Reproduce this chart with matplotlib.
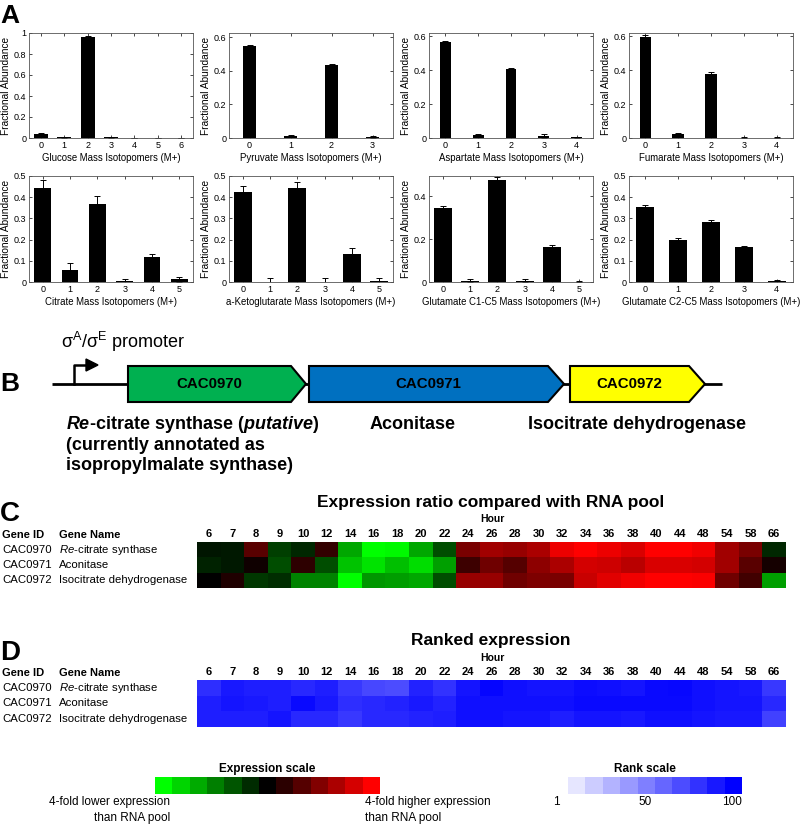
import numpy as np
import matplotlib
matplotlib.use("Agg")
import matplotlib.pyplot as plt
from matplotlib.colors import LinearSegmentedColormap
from matplotlib.patches import Polygon
from matplotlib.ticker import FormatStrFormatter

plt.rcParams['font.family'] = ['Liberation Sans', 'DejaVu Sans']
plt.rcParams['mathtext.fontset'] = 'custom'
plt.rcParams['mathtext.rm'] = 'Liberation Sans'
plt.rcParams['mathtext.it'] = 'Liberation Sans:italic'
plt.rcParams['mathtext.bf'] = 'Liberation Sans:bold'
plt.rcParams['mathtext.bfit'] = 'Liberation Sans:italic:bold'

# ---- panel A: mass isotopomer distributions ----
metabolites = ['Glucose', 'Pyruvate', 'Aspartate', 'Fumarate',
               'Citrate', 'a-Ketoglutarate', 'Glutamate C1-C5', 'Glutamate C2-C5']
abundance = [
    [0.035, 0.005, 0.960, 0.005, 0.0, 0.0, 0.0],
    [0.545, 0.012, 0.435, 0.005],
    [0.565, 0.015, 0.405, 0.012, 0.003],
    [0.595, 0.022, 0.380, 0.002, 0.002],
    [0.445, 0.057, 0.370, 0.005, 0.118, 0.012],
    [0.425, 0.000, 0.445, 0.000, 0.132, 0.004],
    [0.345, 0.006, 0.478, 0.006, 0.165, 0.002],
    [0.355, 0.200, 0.282, 0.163, 0.003],
]
abundance_err = [
    [0.010, 0.004, 0.012, 0.002, 0.0, 0.0, 0.0],
    [0.008, 0.008, 0.008, 0.005],
    [0.010, 0.010, 0.010, 0.010, 0.003],
    [0.015, 0.010, 0.010, 0.003, 0.003],
    [0.035, 0.032, 0.035, 0.008, 0.013, 0.010],
    [0.030, 0.020, 0.028, 0.020, 0.030, 0.013],
    [0.012, 0.008, 0.012, 0.008, 0.008, 0.003],
    [0.008, 0.008, 0.010, 0.008, 0.008],
]
y_max = [1.0, 0.625, 0.62, 0.62, 0.5, 0.5, 0.495, 0.5]
y_ticks = [[0, 0.2, 0.4, 0.6, 0.8, 1], [0, 0.2, 0.4, 0.6], [0, 0.2, 0.4, 0.6], [0, 0.2, 0.4, 0.6],
           [0, 0.1, 0.2, 0.3, 0.4, 0.5], [0, 0.1, 0.2, 0.3, 0.4, 0.5], [0, 0.2, 0.4],
           [0, 0.1, 0.2, 0.3, 0.4, 0.5]]
bar_widths = [0.6, 0.33, 0.33, 0.35, 0.6, 0.65, 0.65, 0.55]

# ---- panel B: operon ----
genes = ['CAC0970', 'CAC0971', 'CAC0972']
gene_colors = ['#00B050', '#0070C0', '#FFFF00']

# ---- panels C and D: expression heatmaps ----
hours = [6, 7, 8, 9, 10, 12, 14, 16, 18, 20, 22, 24, 26, 28, 30, 32, 34, 36, 38, 40, 44, 48, 54, 58, 66]
gene_names = [r'$\mathit{Re}$-citrate synthase', 'Aconitase', 'Isocitrate dehydrogenase']
# log2 expression ratio vs RNA pool
log_ratio = np.array([
    [-0.16, -0.2, 0.7, -0.5, -0.3, 0.4, -1.3, -2.0, -1.95, -1.3, -0.6, 0.95, 1.25,
     1.18, 1.33, 1.85, 2.0, 1.85, 1.7, 2.0, 2.0, 1.88, 1.25, 0.95, -0.3],
    [-0.28, -0.2, 0.12, -0.6, 0.35, -0.6, -1.53, -1.77, -1.5, -1.73, -1.25, 0.47, 0.86,
     0.67, 1.1, 1.33, 1.65, 1.6, 1.45, 1.69, 1.69, 1.65, 1.25, 0.7, 0.16],
    [0.0, 0.24, -0.43, -0.35, -1.02, -1.02, -2.0, -1.18, -1.22, -1.3, -0.6, 1.18, 1.18,
     0.86, 0.98, 0.94, 1.57, 1.76, 1.88, 2.0, 2.0, 1.96, 0.86, 0.51, -1.25],
])
# rank (1-100)
rank = np.array([
    [82, 90, 88, 88, 84, 88, 78, 72, 70, 86, 80, 92, 98, 94, 92, 92, 95, 94, 92, 96, 97, 94, 92, 90, 78],
    [88, 92, 90, 88, 96, 90, 82, 84, 86, 90, 86, 94, 94, 94, 94, 94, 96, 96, 96, 96, 96, 94, 92, 92, 84],
    [88, 88, 88, 92, 84, 84, 78, 84, 84, 86, 88, 94, 94, 92, 92, 88, 92, 92, 90, 94, 94, 92, 90, 90, 74],
])
expr_scale = np.linspace(-2, 2, 13)
rank_scale = np.arange(10, 101, 10)

W, H = 800, 824
fig = plt.figure(figsize=(W / 100, H / 100), dpi=100)


def px_axes(x0, y0, x1, y1):
    return fig.add_axes([x0 / W, 1 - y1 / H, (x1 - x0) / W, (y1 - y0) / H])


# overlay in pixel coordinates for annotations and the gene diagram
ov = fig.add_axes([0, 0, 1, 1])
ov.set_xlim(0, W)
ov.set_ylim(H, 0)
ov.axis('off')

# ---- A ----
ov.text(0, 16, 'A', fontsize=19, fontweight='bold', va='center')
lefts = [29, 229, 429, 629]
rows = [(33, 138), (176, 282)]
for k, name in enumerate(metabolites):
    top, bot = rows[k // 4]
    ax = px_axes(lefts[k % 4], top, lefts[k % 4] + 164, bot)
    vals = abundance[k]
    x = np.arange(len(vals))
    ax.bar(x, vals, width=bar_widths[k], color='black')
    ax.errorbar(x, vals, yerr=abundance_err[k], fmt='none', ecolor='black',
                elinewidth=0.7, capsize=2.5, capthick=0.7)
    ax.set_xlim(-0.5, len(vals) - 0.5)
    ax.set_ylim(0, y_max[k])
    ax.set_xticks(x)
    ax.set_yticks(y_ticks[k])
    ax.yaxis.set_major_formatter(FormatStrFormatter('%g'))
    ax.tick_params(direction='in', top=True, right=True, length=2, width=0.5,
                   labelsize=6.5, pad=2)
    for s in ax.spines.values():
        s.set_linewidth(0.6)
        s.set_color('#555555')
    ax.set_ylabel('Fractional Abundance', fontsize=7.3, labelpad=2)
    ax.set_xlabel(f'{name} Mass Isotopomers (M+)', fontsize=6.9, labelpad=2)

# ---- B ----
ov.text(0, 384, 'B', fontsize=19, fontweight='bold', va='center')
ov.plot([52, 722], [384, 384], color='black', lw=2, solid_capstyle='butt', zorder=1)
ov.plot([74, 74, 87], [384, 365, 365], color='black', lw=1.8, zorder=1)
ov.add_patch(Polygon([(86, 359), (98, 365), (86, 371)], closed=True, color='black'))
ov.text(61, 342, r'σ$^{\mathrm{A}}$/σ$^{\mathrm{E}}$ promoter', fontsize=13, va='center')

arrows = [(128, 291, 306), (309, 548, 564), (570, 689, 705)]
for (x0, tip, x1), g, c in zip(arrows, genes, gene_colors):
    ov.add_patch(Polygon([(x0, 366), (tip, 366), (x1, 384), (tip, 402), (x0, 402)],
                         closed=True, facecolor=c, edgecolor='black', lw=1.5, zorder=3))
    ov.text((x0 + tip) / 2, 384, g, fontsize=10.8, fontweight='bold',
            ha='center', va='center', zorder=4)

ov.text(66, 424, r'$\mathbfit{Re}$-citrate synthase ($\mathbfit{putative}$)',
        fontsize=13, fontweight='bold', va='center')
ov.text(66, 445, '(currently annotated as', fontsize=13, fontweight='bold', va='center')
ov.text(66, 465, 'isopropylmalate synthase)', fontsize=13, fontweight='bold', va='center')
ov.text(370, 424, 'Aconitase', fontsize=13, fontweight='bold', va='center')
ov.text(528, 424, 'Isocitrate dehydrogenase', fontsize=13, fontweight='bold', va='center')

# ---- C and D heatmaps ----
expr_cmap = LinearSegmentedColormap.from_list('gkr', [(0, 1, 0), (0, 0, 0), (1, 0, 0)])
rank_cmap = LinearSegmentedColormap.from_list('wb', [(1, 1, 1), (0, 0, 1)])


def heat_panel(letter, title, data, cmap, vmin, vmax, title_y, hm_top, hm_bot):
    ov.text(0, title_y + 12, letter, fontsize=20, fontweight='bold', va='center')
    ov.text(491, title_y, title, fontsize=12.5, fontweight='bold', ha='center', va='center')
    ov.text(492, title_y + 17, 'Hour', fontsize=7.5, fontweight='bold', ha='center', va='center')
    head_y = hm_top - 7
    ov.text(2, head_y, 'Gene ID', fontsize=8, fontweight='bold', va='center')
    ov.text(59, head_y, 'Gene Name', fontsize=8, fontweight='bold', va='center')
    row_h = (hm_bot - hm_top) / 3
    for i in range(3):
        yc = hm_top + row_h * (i + 0.5)
        ov.text(2, yc, genes[i], fontsize=8.2, va='center')
        ov.text(59, yc, gene_names[i], fontsize=8.2, va='center')
    ax = px_axes(197, hm_top, 786, hm_bot)
    ax.imshow(data, cmap=cmap, vmin=vmin, vmax=vmax, aspect='auto',
              interpolation='nearest')
    ax.set_xticks(range(len(hours)))
    ax.set_xticklabels([str(h) for h in hours], fontsize=8, fontweight='bold')
    ax.xaxis.tick_top()
    ax.tick_params(length=0, pad=2)
    ax.set_yticks([])
    for s in ax.spines.values():
        s.set_visible(False)


heat_panel('C', 'Expression ratio compared with RNA pool', log_ratio, expr_cmap, -2, 2,
           502, 542, 588)
heat_panel('D', 'Ranked expression', rank, rank_cmap, 0, 100, 641, 680, 727)

# ---- scales ----
ax = px_axes(155, 777, 380, 794)
ax.imshow(expr_scale[np.newaxis, :], cmap=expr_cmap, vmin=-2, vmax=2, aspect='auto')
ax.axis('off')
ov.text(267, 769, 'Expression scale', fontsize=8.5, fontweight='bold', ha='center', va='center')
ov.text(170, 802, '4-fold lower expression', fontsize=8.5, ha='right', va='center')
ov.text(170, 818, 'than RNA pool', fontsize=8.5, ha='right', va='center')
ov.text(365, 802, '4-fold higher expression', fontsize=8.5, ha='left', va='center')
ov.text(365, 818, 'than RNA pool', fontsize=8.5, ha='left', va='center')

ax = px_axes(568, 777, 742, 794)
ax.imshow(rank_scale[np.newaxis, :], cmap=rank_cmap, vmin=0, vmax=100, aspect='auto')
ax.axis('off')
ov.text(645, 769, 'Rank scale', fontsize=8.5, fontweight='bold', ha='center', va='center')
for lab, xp in zip(['1', '50', '100'], [556, 645, 732]):
    ov.text(xp, 802, lab, fontsize=8.5, ha='center', va='center')

fig.savefig('out.png', dpi=100)
